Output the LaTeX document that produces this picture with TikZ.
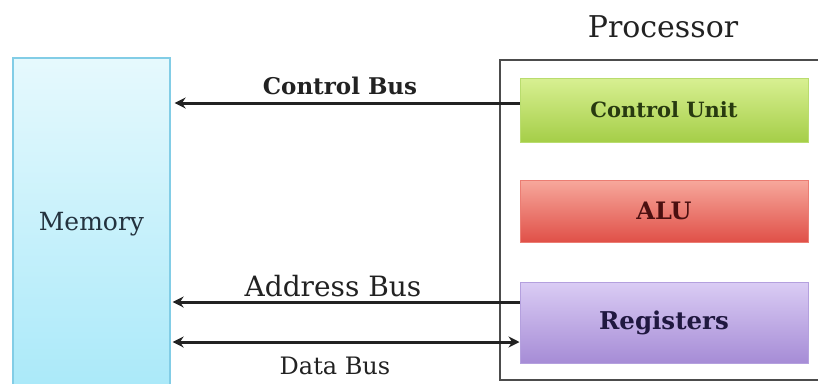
\documentclass[tikz,border=0pt]{standalone}
\usepackage{fontspec}
\setmainfont{DejaVu Serif}
\usetikzlibrary{arrows.meta}
% palette
\definecolor{memtop}{RGB}{230,249,253}
\definecolor{membot}{RGB}{170,233,249}
\definecolor{memline}{RGB}{130,205,230}
\definecolor{memtext}{RGB}{35,50,62}
\definecolor{cutop}{RGB}{216,240,146}
\definecolor{cubot}{RGB}{165,206,72}
\definecolor{culine}{RGB}{185,220,110}
\definecolor{cutext}{RGB}{40,58,16}
\definecolor{alutop}{RGB}{247,168,156}
\definecolor{alubot}{RGB}{224,80,72}
\definecolor{aluline}{RGB}{235,125,115}
\definecolor{alutext}{RGB}{75,16,16}
\definecolor{regtop}{RGB}{218,204,244}
\definecolor{regbot}{RGB}{166,140,214}
\definecolor{regline}{RGB}{180,160,222}
\definecolor{regtext}{RGB}{32,24,64}
\definecolor{ink}{RGB}{34,34,34}
\tikzset{
  unitbox/.style={draw=#1, line width=1pt, minimum width=288pt, inner sep=0pt},
  bus/.style={line width=3pt, draw=ink, -{Stealth[length=11pt,width=11pt]}},
  twoway/.style={{Stealth[length=11pt,width=11pt]}-{Stealth[length=11pt,width=11pt]}},
  buslabel/.style={text=ink, inner sep=0pt}
}
\begin{document}
\begin{tikzpicture}[x=1pt,y=-1pt]
\useasboundingbox (0,0) rectangle (818,383);
\clip (0,0) rectangle (818,383);
\fill[white] (0,0) rectangle (818,383);

% memory block, running off the bottom edge
\node[draw=memline, line width=1.2pt, top color=memtop, bottom color=membot,
      minimum width=157pt, minimum height=332pt, inner sep=0pt,
      text=memtext, font=\fontsize{25}{25}\selectfont]
  (mem) at (91.5,224) {Memory};

% processor frame and title
\draw[line width=2pt, draw=black!70] (830,60) -- (500,60) -- (500,380) -- (830,380);
\node[font=\fontsize{30}{30}\selectfont, text=ink, inner sep=0pt] (ptitle) at (663,27) {Processor};

% functional units
\node[unitbox=culine, minimum height=64pt, top color=cutop, bottom color=cubot,
      text=cutext, font=\bfseries\fontsize{21}{21}\selectfont]
  (cu) at (664,110) {Control Unit};
\node[unitbox=aluline, minimum height=62pt, top color=alutop, bottom color=alubot,
      text=alutext, font=\bfseries\fontsize{24}{24}\selectfont]
  (alu) at (664,211) {ALU};
\node[unitbox=regline, minimum height=81pt, top color=regtop, bottom color=regbot,
      text=regtext, font=\bfseries\fontsize{24.5}{24.5}\selectfont]
  (reg) at (664,322.5) {Registers};

% buses
\draw[bus, shorten >=4pt] (cu.west |- 0,103) -- (mem.east |- 0,103);
\draw[bus, shorten >=2pt] (reg.west |- 0,302) -- (mem.east |- 0,302);
\draw[bus, twoway, shorten <=2pt]
  (mem.east |- 0,342) -- (reg.west |- 0,342);

\node[buslabel, font=\bfseries\fontsize{23}{23}\selectfont] (lcb) at (340,86) {Control Bus};
\node[buslabel, font=\fontsize{28}{28}\selectfont] (lab) at (333,286) {Address Bus};
\node[buslabel, font=\fontsize{24}{24}\selectfont] (ldb) at (335,366) {Data Bus};
\end{tikzpicture}
\end{document}
